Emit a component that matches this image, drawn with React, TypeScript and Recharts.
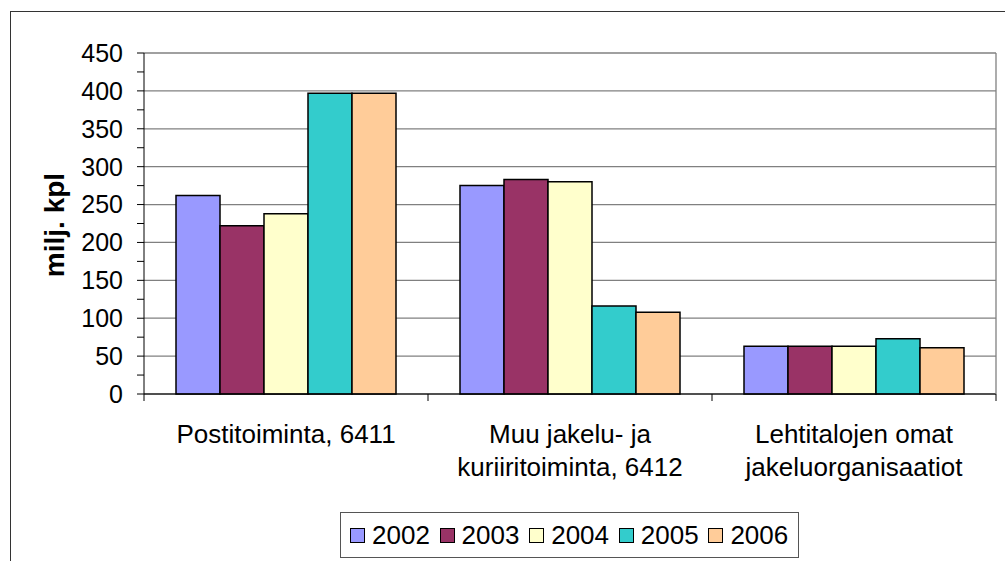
import React from 'react'
import { Bar, BarChart, CartesianGrid, Legend, XAxis, YAxis } from 'recharts'

const categories = ['Postitoiminta, 6411', 'Muu jakelu- ja\nkuriiritoiminta, 6412', 'Lehtitalojen omat\njakeluorganisaatiot']
const years = ['2002', '2003', '2004', '2005', '2006']
const v2002 = [262, 275, 63]
const v2003 = [222, 283, 63]
const v2004 = [238, 280, 63]
const v2005 = [397, 116, 73]
const v2006 = [397, 108, 61]
const yTicks = [0, 25, 50, 75, 100, 125, 150, 175, 200, 225, 250, 275, 300, 325, 350, 375, 400, 425, 450]
const yGrid = [0, 50, 100, 150, 200, 250, 300, 350, 400, 450]
const colors = ['#9999FF', '#993366', '#FFFFCC', '#33CCCC', '#FFCC99']

const series = [v2002, v2003, v2004, v2005, v2006]
const data = categories.map((name, i) => {
    const row: Record<string, string | number> = { name }
    years.forEach((y, k) => { row[y] = series[k][i] })
    return row
})

const font = 'Arial, "Liberation Sans", sans-serif'

const CategoryTick = (props: any) => {
    const { x, y, payload, index } = props
    const half = payload.offset || 0
    const lines = String(payload.value).split('\n')
    return (
        <g>
            {index === 0 && <line x1={x - half} y1={y - 8} x2={x - half} y2={y - 1} stroke="#000" />}
            <line x1={x + half} y1={y - 8} x2={x + half} y2={y - 1} stroke="#000" />
            <text x={x} y={y + 41} textAnchor="middle" fontSize={26} fontFamily={font} fill="#000">
                {lines.map((l, i) => (
                    <tspan key={i} x={x} dy={i === 0 ? 0 : 33}>{l}</tspan>
                ))}
            </text>
        </g>
    )
}

const LegendBox = () => (
    <div style={{ border: '1px solid #555', width: 459, height: 46, display: 'flex', alignItems: 'center', paddingLeft: 9, boxSizing: 'border-box', background: '#fff' }}>
        {years.map((y, i) => (
            <div key={y} style={{ display: 'flex', alignItems: 'center', width: 90 }}>
                <span style={{ display: 'inline-block', width: 13, height: 13, background: colors[i], border: '1.5px solid #000', marginRight: 7 }} />
                <span style={{ fontSize: 26, fontFamily: font, color: '#000' }}>{y}</span>
            </div>
        ))}
    </div>
)

const App = () => {
    return (
        <div style={{ position: 'absolute', left: 0, top: 0, width: 1005, height: 561, overflow: 'hidden', background: '#fff' }}>
            <div style={{ position: 'absolute', left: 10, top: 11, width: 1010, height: 570, border: '1.5px solid #333' }} />
            <div style={{ position: 'absolute', left: 0, top: 0 }}>
                <BarChart
                    width={1005}
                    height={561}
                    data={data}
                    barCategoryGap={32}
                    barGap={0}
                    margin={{ top: 53, right: 8, left: 64, bottom: 51 }}
                >
                    <CartesianGrid vertical={false} horizontalValues={yGrid} stroke="#808080" strokeWidth={1.3} />
                    <XAxis dataKey="name" height={70} tick={<CategoryTick />} tickLine={false} axisLine={{ stroke: '#000' }} interval={0} />
                    <YAxis
                        width={80}
                        domain={[0, 450]}
                        ticks={yTicks}
                        interval={0}
                        tickSize={7}
                        tickMargin={14}
                        tickFormatter={(v: number) => (v % 50 === 0 ? String(v) : '')}
                        tick={{ fontSize: 25, fontFamily: font, fill: '#000' }}
                        tickLine={{ stroke: '#000' }}
                        axisLine={{ stroke: '#000' }}
                        label={() => (
                            <text x={54} y={225} transform="rotate(-90 54 225)" textAnchor="middle" dominantBaseline="central" fontSize={28} fontWeight="bold" fontFamily={font} fill="#000">
                                milj. kpl
                            </text>
                        )}
                    />
                    <YAxis yAxisId="r" orientation="right" width={1} tick={false} tickLine={false} axisLine={{ stroke: '#808080', strokeWidth: 1.3 }} />
                    {years.map((y, i) => (
                        <Bar key={y} dataKey={y} fill={colors[i]} stroke="#000" strokeWidth={1.5} isAnimationActive={false} />
                    ))}
                    <Legend content={<LegendBox />} wrapperStyle={{ position: 'absolute', left: 340, top: 512, width: 'auto' }} />
                </BarChart>
            </div>
        </div>
    )
}

export default App
